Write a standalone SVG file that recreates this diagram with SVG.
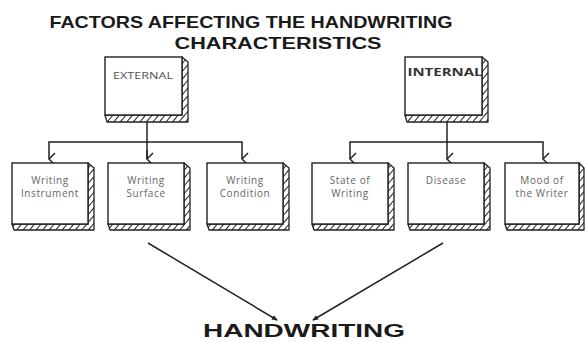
<svg xmlns="http://www.w3.org/2000/svg" width="585" height="342" viewBox="0 0 585 342">
<defs>
<pattern id="hatch" patternUnits="userSpaceOnUse" width="5" height="5" patternTransform="rotate(40)">
<rect width="5" height="5" fill="#fff"/>
<line x1="0" y1="0" x2="0" y2="5" stroke="#222" stroke-width="2"/>
</pattern>
<marker id="chev" viewBox="0 0 14 10" refX="7" refY="9" markerWidth="14" markerHeight="10" markerUnits="userSpaceOnUse" orient="auto-start-reverse">
<path d="M1,3 L7,9 L13,3" fill="none" stroke="#222" stroke-width="1.5"/>
</marker>
<marker id="tip" viewBox="0 0 6 6" refX="5" refY="3" markerWidth="6" markerHeight="6" markerUnits="userSpaceOnUse" orient="auto">
<path d="M0,0.5 L6,3 L0,5.5 z" fill="#222"/>
</marker>
</defs>
<style>
.title{font-family:"Liberation Sans",Arial,sans-serif;font-weight:bold;fill:#1a1a1a}
.front{fill:#fff;stroke:#222;stroke-width:1.4}
.side{fill:url(#hatch);stroke:#222;stroke-width:1.3;stroke-linejoin:round}
.lbl{font-family:"Open Sans","DejaVu Sans",sans-serif;font-size:10px;fill:#666;text-anchor:middle;letter-spacing:0.6px}
.conn{fill:none;stroke:#222;stroke-width:1.5}
</style>
<rect width="585" height="342" fill="#fff"/>
<text class="title" x="251" y="28" font-size="16.5" text-anchor="middle" textLength="403" lengthAdjust="spacingAndGlyphs">FACTORS AFFECTING THE HANDWRITING</text>
<text class="title" x="278" y="49" font-size="16.5" text-anchor="middle" textLength="207" lengthAdjust="spacingAndGlyphs">CHARACTERISTICS</text>

<g id="external">
<polygon class="side" points="182,57 188,62 188,122 107,122 105,115 182,115"/>
<rect class="front" x="105" y="57" width="77" height="58"/>
<text x="143" y="79" font-family="'Open Sans','DejaVu Sans',sans-serif" font-size="9.5" fill="#555" text-anchor="middle" textLength="60" lengthAdjust="spacingAndGlyphs">EXTERNAL</text>
</g>
<g id="internal">
<polygon class="side" points="482,57 488,62 488,122 407,122 405,115 482,115"/>
<rect class="front" x="405" y="57" width="77" height="58"/>
<text x="445" y="76" font-family="'Open Sans','DejaVu Sans',sans-serif" font-size="11" font-weight="bold" fill="#333" text-anchor="middle" textLength="75" lengthAdjust="spacingAndGlyphs">INTERNAL</text>
</g>

<g id="connectors">
<path class="conn" d="M147,122 V159"/>
<path class="conn" d="M49,159 V142 H242 V159" marker-start="url(#chev)" marker-end="url(#chev)"/>
<path class="conn" d="M147,150 V159" marker-end="url(#chev)"/>
<path class="conn" d="M447,122 V159" marker-end="url(#chev)"/>
<path class="conn" d="M350,159 V142 H543 V159" marker-start="url(#chev)" marker-end="url(#chev)"/>
<path class="conn" d="M148,243 L277,320" marker-end="url(#tip)"/>
<path class="conn" d="M443,243 L313,320" marker-end="url(#tip)"/>
</g>

<g id="writing-instrument">
<polygon class="side" points="88,163 94,168 94,230 14,230 12,224 88,224"/>
<rect class="front" x="12" y="163" width="76" height="61"/>
<text class="lbl" x="50" y="184">Writing</text>
<text class="lbl" x="50" y="197">Instrument</text>
</g>
<g id="writing-surface">
<polygon class="side" points="184,163 190,168 190,230 110,230 108,224 184,224"/>
<rect class="front" x="108" y="163" width="76" height="61"/>
<text class="lbl" x="146" y="184">Writing</text>
<text class="lbl" x="146" y="197">Surface</text>
</g>
<g id="writing-condition">
<polygon class="side" points="283,163 289,168 289,230 209,230 207,224 283,224"/>
<rect class="front" x="207" y="163" width="76" height="61"/>
<text class="lbl" x="245" y="184">Writing</text>
<text class="lbl" x="245" y="197">Condition</text>
</g>
<g id="state-of-writing">
<polygon class="side" points="388,163 394,168 394,230 314,230 312,224 388,224"/>
<rect class="front" x="312" y="163" width="76" height="61"/>
<text class="lbl" x="350" y="184">State of</text>
<text class="lbl" x="350" y="197">Writing</text>
</g>
<g id="disease">
<polygon class="side" points="484,163 490,168 490,230 410,230 408,224 484,224"/>
<rect class="front" x="408" y="163" width="76" height="61"/>
<text class="lbl" x="446" y="184">Disease</text>
</g>
<g id="mood-of-writer">
<polygon class="side" points="579,163 584,168 584,230 507,230 505,224 579,224"/>
<rect class="front" x="505" y="163" width="74" height="61"/>
<text class="lbl" x="542" y="184">Mood of</text>
<text class="lbl" x="542" y="197">the Writer</text>
</g>

<g id="handwriting">
<text class="title" x="304" y="337" font-size="18.5" text-anchor="middle" textLength="202" lengthAdjust="spacingAndGlyphs">HANDWRITING</text>
</g>
</svg>
